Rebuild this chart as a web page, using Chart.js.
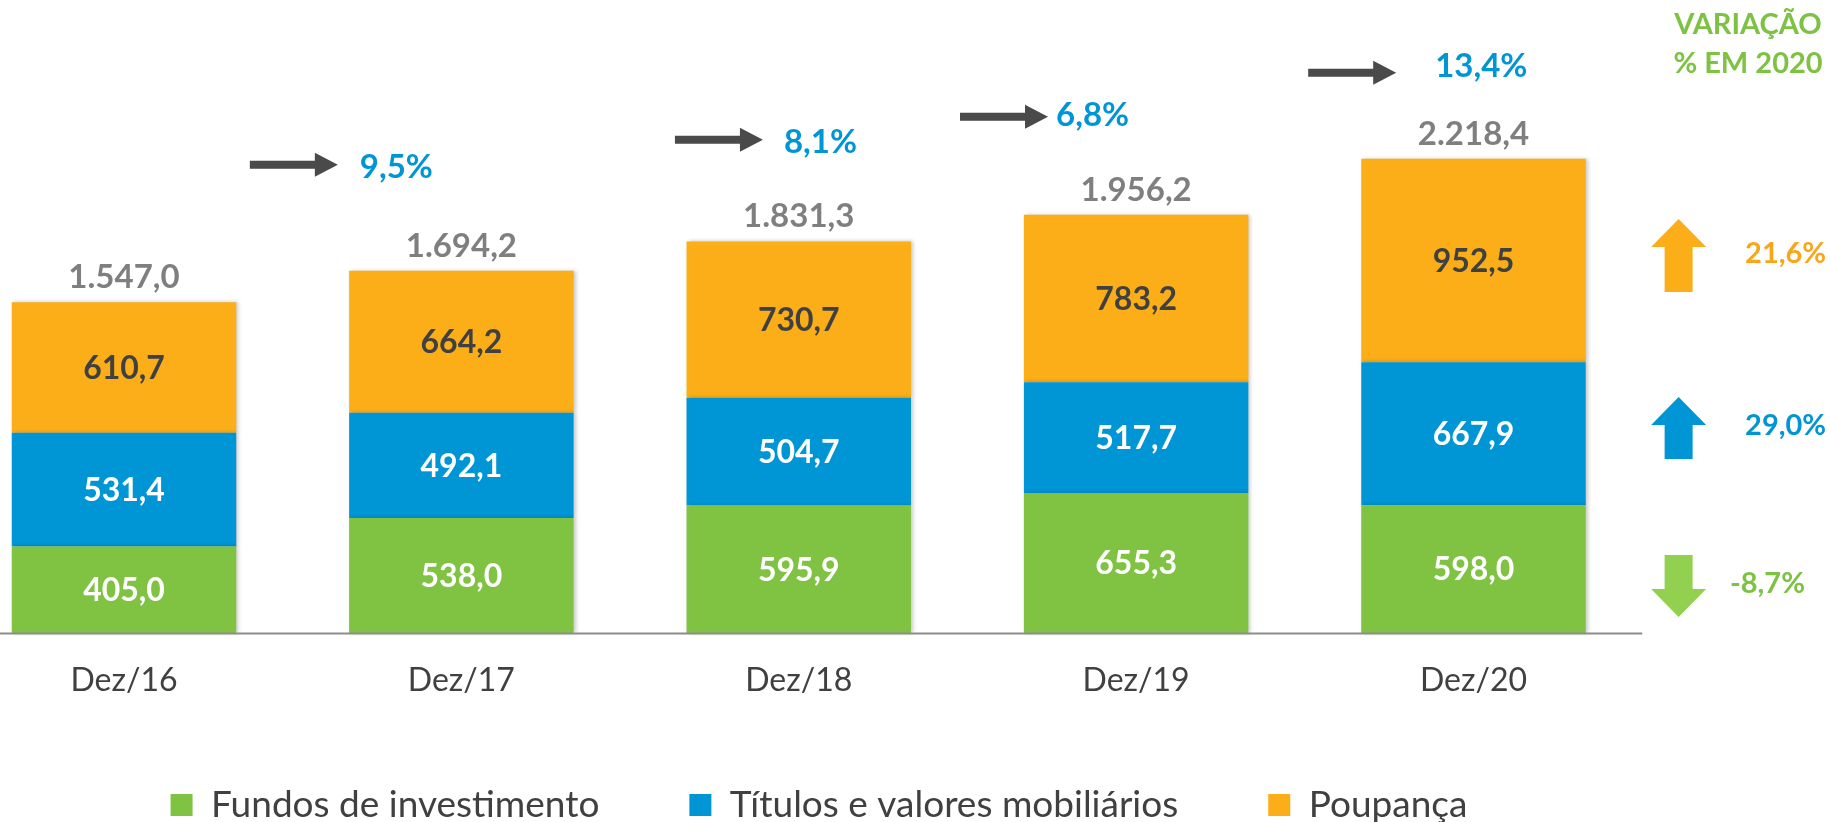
<!DOCTYPE html>
<html>
<head>
<meta charset="utf-8">
<script src="https://cdn.jsdelivr.net/npm/chart.js@4.4.1/dist/chart.umd.min.js"></script>
<style>
  html, body { margin: 0; padding: 0; background: #fff; }
  #wrap { width: 1830px; height: 822px; }
</style>
</head>
<body>
<div id="wrap"><canvas id="barChart"></canvas></div>
<script>
// data
const labels = ['Dez/16', 'Dez/17', 'Dez/18', 'Dez/19', 'Dez/20'];
const fundos = [405.0, 538.0, 595.9, 655.3, 598.0];
const titulos = [531.4, 492.1, 504.7, 517.7, 667.9];
const poupanca = [610.7, 664.2, 730.7, 783.2, 952.5];
const totals = [1547.0, 1694.2, 1831.3, 1956.2, 2218.4];
const growth = [9.5, 8.1, 6.8, 13.4];
const change2020 = [-8.7, 29.0, 21.6]; // fundos, titulos, poupanca

const GREEN = '#80C342', BLUE = '#0096D6', ORANGE = '#FBAE17';
const DARK = '#404040', GRAY = '#7F7F7F';

Chart.defaults.font.family = 'Lato';

function fmt(v) {
  const neg = v < 0;
  const parts = Math.abs(v).toFixed(1).split('.');
  const int = parts[0].replace(/\B(?=(\d{3})+(?!\d))/g, '.');
  return (neg ? '-' : '') + int + ',' + parts[1];
}

const valueColors = ['#FFFFFF', '#FFFFFF', DARK];

// where the extra marks sit: x as category index, y as value on the axis
const growthMarks = [
  { at: 0.373, level: 2190, textDx: 110, textDy: 3 },
  { at: 1.633, level: 2307, textDx: 109, textDy: 3 },
  { at: 2.478, level: 2415, textDx: 96, textDy: -1 },
  { at: 3.510, level: 2621, textDx: 127, textDy: -6 }
];
const sideMarks = [
  { level: 220, len: 62, up: false, arrow: '#92D050', text: '#7DC242', textAt: 4.760 },
  { level: 959, len: 62, up: true, arrow: BLUE, text: BLUE, textAt: 4.805 },
  { level: 1766, len: 73, up: true, arrow: ORANGE, text: '#F9A61A', textAt: 4.805 }
];

function hArrow(ctx, x0, yc) {
  ctx.beginPath();
  ctx.moveTo(x0, yc - 4);
  ctx.lineTo(x0 + 65, yc - 4);
  ctx.lineTo(x0 + 65, yc - 12);
  ctx.lineTo(x0 + 88, yc);
  ctx.lineTo(x0 + 65, yc + 12);
  ctx.lineTo(x0 + 65, yc + 4);
  ctx.lineTo(x0, yc + 4);
  ctx.closePath();
  ctx.fill();
}

function vArrow(ctx, cx, yc, len, up) {
  const s = up ? 1 : -1;
  const tip = yc - s * len / 2, end = yc + s * len / 2;
  const head = tip + s * 28;
  ctx.beginPath();
  ctx.moveTo(cx, tip);
  ctx.lineTo(cx + 27.5, head);
  ctx.lineTo(cx + 14, head);
  ctx.lineTo(cx + 14, end);
  ctx.lineTo(cx - 14, end);
  ctx.lineTo(cx - 14, head);
  ctx.lineTo(cx - 27.5, head);
  ctx.closePath();
  ctx.fill();
}

const overlay = {
  id: 'overlay',
  afterLayout(chart) {
    // legend sits a bit left of the canvas centre in the reference
    const lg = chart.legend;
    lg.left -= 96; lg.right -= 96;
  },
  beforeDatasetDraw(chart) {
    const ctx = chart.ctx;
    ctx.save();
    ctx.shadowColor = 'rgba(0,0,0,0.22)';
    ctx.shadowBlur = 4;
    ctx.shadowOffsetX = 2;
  },
  afterDatasetDraw(chart) {
    chart.ctx.restore();
  },
  afterDatasetsDraw(chart) {
    const ctx = chart.ctx;
    const xs = chart.scales.x, ys = chart.scales.y;
    ctx.save();

    // base line
    const y0 = ys.getPixelForValue(0);
    ctx.strokeStyle = '#8C8C8C';
    ctx.lineWidth = 2;
    ctx.beginPath();
    ctx.moveTo(0, y0 + 0.5);
    ctx.lineTo(xs.getPixelForValue(4.5), y0 + 0.5);
    ctx.stroke();

    // values inside the segments
    ctx.textAlign = 'center';
    ctx.textBaseline = 'middle';
    ctx.font = 'bold 32px Lato';
    chart.data.datasets.forEach((ds, di) => {
      chart.getDatasetMeta(di).data.forEach((bar, i) => {
        const p = bar.getProps(['x', 'y', 'base'], true);
        ctx.fillStyle = valueColors[di];
        ctx.fillText(fmt(ds.data[i]), p.x, (p.y + p.base) / 2 + 1);
      });
    });

    // totals
    ctx.textBaseline = 'alphabetic';
    ctx.font = 'bold 33px Lato';
    ctx.fillStyle = GRAY;
    totals.forEach((t, i) => {
      ctx.fillText(fmt(t), xs.getPixelForValue(i), ys.getPixelForValue(t) - 14);
    });

    // growth arrows between years
    ctx.font = 'bold 33px Lato';
    ctx.textAlign = 'left';
    ctx.textBaseline = 'middle';
    growthMarks.forEach((m, i) => {
      const x0 = xs.getPixelForValue(m.at);
      const yc = ys.getPixelForValue(m.level);
      ctx.fillStyle = '#4A4A4A';
      hArrow(ctx, x0, yc);
      ctx.fillStyle = BLUE;
      ctx.fillText(fmt(growth[i]) + '%', x0 + m.textDx, yc + m.textDy);
    });

    // variation 2020 column
    const cx = xs.getPixelForValue(4.608);
    ctx.font = 'bold 29px Lato';
    sideMarks.forEach((m, i) => {
      const yc = ys.getPixelForValue(m.level);
      ctx.fillStyle = m.arrow;
      vArrow(ctx, cx, yc, m.len, m.up);
      ctx.fillStyle = m.text;
      ctx.textAlign = 'left';
      ctx.fillText(fmt(change2020[i]) + '%', xs.getPixelForValue(m.textAt), yc - 2);
    });

    ctx.fillStyle = '#7DC242';
    ctx.textAlign = 'center';
    ctx.textBaseline = 'alphabetic';
    const hx = xs.getPixelForValue(4.8136);
    ctx.fillText('VARIAÇÃO', hx, ys.getPixelForValue(2802));
    ctx.fillText('% EM 2020', hx, ys.getPixelForValue(2619));

    ctx.restore();
  }
};

const hidden = { display: false };

const barChart = document.getElementById('barChart').getContext('2d');

const myBarChart = new Chart(barChart, {
  type: 'bar',
  data: {
    labels: labels,
    datasets: [{
      label: 'Fundos de investimento',
      data: fundos,
      backgroundColor: GREEN,
      clip: false
    }, {
      label: 'Títulos e valores mobiliários',
      data: titulos,
      backgroundColor: BLUE,
      clip: false
    }, {
      label: 'Poupança',
      data: poupanca,
      backgroundColor: ORANGE,
      clip: false
    }]
  },
  options: {
    responsive: true,
    maintainAspectRatio: false,
    animation: false,
    categoryPercentage: 0.6654,
    barPercentage: 1,
    layout: {
      padding: { left: 0, right: 0, top: 13, bottom: 0 }
    },
    scales: {
      x: {
        stacked: true,
        offset: false,
        grid: { display: false, drawTicks: false },
        border: hidden,
        ticks: {
          color: DARK,
          font: { size: 32 },
          padding: 28
        },
        afterFit: (scale) => { scale.height = 63.5; }
      },
      y: {
        stacked: true,
        min: 0,
        max: 2900,
        grid: hidden,
        border: hidden,
        ticks: hidden,
        afterFit: (scale) => { scale.width = 124; }
      },
      yRight: {
        type: 'linear',
        position: 'right',
        grid: hidden,
        border: hidden,
        ticks: hidden,
        afterFit: (scale) => { scale.width = 356.5; }
      }
    },
    plugins: {
      legend: {
        position: 'bottom',
        maxHeight: 125.5,
        labels: {
          color: DARK,
          font: { size: 37 },
          boxWidth: 22,
          boxHeight: 22,
          padding: 90
        }
      },
      tooltip: { enabled: false }
    }
  },
  plugins: [overlay]
});
</script>
</body>
</html>
